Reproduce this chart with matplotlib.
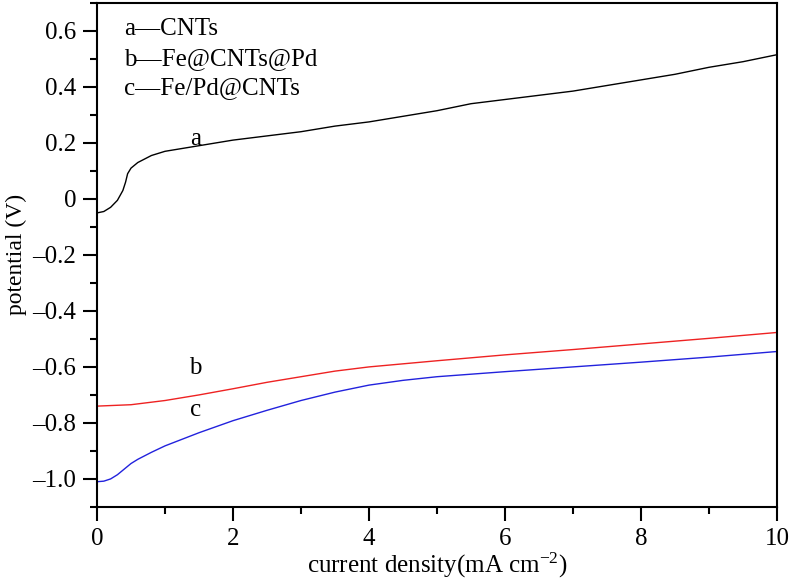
import matplotlib
matplotlib.use('Agg')
import matplotlib.pyplot as plt
from matplotlib.ticker import MultipleLocator, FuncFormatter

plt.rcParams['font.family'] = ['Liberation Serif', 'DejaVu Serif']
plt.rcParams['mathtext.fontset'] = 'custom'
plt.rcParams['mathtext.rm'] = 'Liberation Serif'
plt.rcParams['mathtext.default'] = 'regular'

# curve a - CNTs
xa = [0, 0.1, 0.2, 0.3, 0.38, 0.42, 0.45, 0.5, 0.6, 0.8, 1.0, 1.5, 2, 2.5, 3, 3.5, 4, 4.5, 5, 5.5, 6, 6.5, 7, 7.5, 8, 8.5, 9, 9.5, 10]
ya = [-0.05, -0.045, -0.03, -0.005, 0.03, 0.06, 0.09, 0.11, 0.13, 0.155, 0.17, 0.19, 0.21, 0.225, 0.24, 0.26, 0.275, 0.295, 0.315, 0.34, 0.355, 0.37, 0.385, 0.405, 0.425, 0.445, 0.47, 0.49, 0.515]

# curve b - Fe@CNTs@Pd
xb = [0, 0.5, 1, 1.5, 2, 2.5, 3, 3.5, 4, 5, 6, 7, 8, 9, 10]
yb = [-0.74, -0.735, -0.72, -0.70, -0.678, -0.655, -0.635, -0.615, -0.60, -0.578, -0.557, -0.538, -0.518, -0.498, -0.477]

# curve c - Fe/Pd@CNTs
xc = [0, 0.1, 0.2, 0.3, 0.4, 0.5, 0.6, 0.8, 1.0, 1.5, 2, 2.5, 3, 3.5, 4, 4.5, 5, 6, 7, 8, 9, 10]
yc = [-1.01, -1.008, -1.0, -0.985, -0.965, -0.945, -0.93, -0.905, -0.882, -0.835, -0.792, -0.755, -0.72, -0.69, -0.665, -0.648, -0.635, -0.617, -0.6, -0.583, -0.565, -0.545]

legend_lines = ['a\u2014CNTs', 'b\u2014Fe@CNTs@Pd', 'c\u2014Fe/Pd@CNTs']

fig = plt.figure(figsize=(7.92, 5.80), dpi=100)
ax = fig.add_axes([0.1225, 0.126, 0.8585, 0.869])

ax.plot(xa, ya, color='black', linewidth=1.0)
ax.plot(xb, yb, color='#ee2222', linewidth=1.0)
ax.plot(xc, yc, color='#2222dd', linewidth=1.0)

ax.text(1.45, 0.215, 'a', fontsize=18, ha='center', va='center')
ax.text(1.45, -0.605, 'b', fontsize=18, ha='center', va='center')
ax.text(1.45, -0.755, 'c', fontsize=18, ha='center', va='center')

for i, s in enumerate(legend_lines):
    ax.text(0.4, 0.607 - i * 0.106, s, fontsize=18, ha='left', va='center')

ax.set_xlim(0, 10)
ax.set_ylim(-1.1, 0.7)
ax.xaxis.set_major_locator(MultipleLocator(2))
ax.xaxis.set_minor_locator(MultipleLocator(1))
ax.yaxis.set_major_locator(MultipleLocator(0.2))
ax.yaxis.set_minor_locator(MultipleLocator(0.1))

def yfmt(v, pos):
    if abs(v) < 1e-9:
        return '0'
    return ('%.1f' % v).replace('-', '\u2013')

ax.yaxis.set_major_formatter(FuncFormatter(yfmt))
ax.xaxis.set_major_formatter(FuncFormatter(lambda v, p: '%d' % round(v)))

ax.tick_params(which='major', direction='out', length=10, width=1.5, labelsize=18)
ax.tick_params(axis='y', which='major', pad=5)
ax.tick_params(axis='x', which='major', pad=5)
ax.tick_params(which='minor', direction='out', length=5, width=1.5)
ax.tick_params(top=False, right=False)
for sp in ax.spines.values():
    sp.set_linewidth(1.5)

ax.set_xlabel('current density(mA cm$^{\u22122}$)', fontsize=18, labelpad=1)
ax.set_ylabel('potential (V)', fontsize=17, labelpad=4)

fig.savefig('out.png', dpi=100)
